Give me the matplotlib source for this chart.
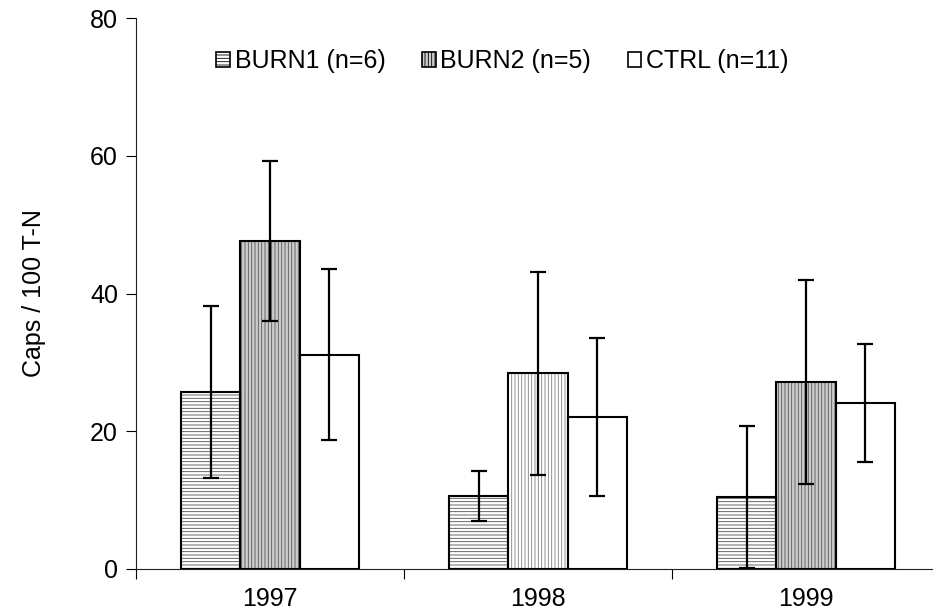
import matplotlib.pyplot as plt
import numpy as np
from matplotlib.patches import Patch

plt.rcParams['font.family'] = ['Liberation Sans', 'DejaVu Sans']
plt.rcParams['hatch.linewidth'] = 0.6

years = ['1997', '1998', '1999']
series = ['BURN1 (n=6)', 'BURN2 (n=5)', 'CTRL (n=11)']
burn1 = [25.7, 10.6, 10.4]
burn1_err = [12.5, 3.7, 10.3]
burn2 = [47.6, 28.4, 27.2]
burn2_err = [11.6, 14.7, 14.8]
ctrl = [31.1, 22.1, 24.1]
ctrl_err = [12.4, 11.5, 8.6]

fig = plt.figure(figsize=(9.33, 6.15), dpi=100)
ax = fig.add_axes([136 / 933, 1 - 569 / 615, 804 / 933, 551 / 615])

x = np.arange(len(years))
w = 0.222
lw = 1.5

# hatched fills first, then black outlines on top
ax.bar(x - w, burn1, w, color='white', edgecolor='#505050', hatch='-----', linewidth=0)
ax.bar(x, burn2, w, color=['#cccccc', 'white', '#cccccc'],
       edgecolor=['#555555', '#808080', '#555555'], hatch='|||||', linewidth=0)
ax.bar(x + w, ctrl, w, color='white', linewidth=0)
for off, vals in [(-w, burn1), (0, burn2), (w, ctrl)]:
    ax.bar(x + off, vals, w, fill=False, edgecolor='black', linewidth=lw)

err_kw = dict(fmt='none', ecolor='black', elinewidth=1.6, capsize=5.5, capthick=1.6)
ax.errorbar(x - w, burn1, yerr=burn1_err, **err_kw)
ax.errorbar(x, burn2, yerr=burn2_err, **err_kw)
ax.errorbar(x + w, ctrl, yerr=ctrl_err, **err_kw)

ax.set_xlim(-0.5, 2.5)
ax.set_ylim(0, 80)
ax.set_yticks([0, 20, 40, 60, 80])
ax.set_xticks([-0.5, 0.5, 1.5, 2.5])
ax.set_xticklabels([])
ax.set_xticks(x, minor=True)
ax.set_xticklabels(years, minor=True)
ax.tick_params(axis='x', which='minor', length=0, pad=13, labelsize=18)
ax.tick_params(axis='x', which='major', length=7, width=0.8, direction='out')
ax.tick_params(axis='y', length=7, width=0.8, direction='out', labelsize=18, pad=6)
for s in ['top', 'right']:
    ax.spines[s].set_visible(False)
for s in ['left', 'bottom']:
    ax.spines[s].set_linewidth(0.8)
    ax.spines[s].set_color('#202020')

ax.set_ylabel('Caps / 100 T-N', fontsize=18, labelpad=32)

handles = [
    Patch(facecolor='white', edgecolor='black', hatch='-----', linewidth=1.2),
    Patch(facecolor='#cccccc', edgecolor='black', hatch='|||||', linewidth=1.2),
    Patch(facecolor='white', edgecolor='black', linewidth=1.2),
]
fig.legend(handles, series, ncol=3, frameon=False, fontsize=18,
           loc='center left', bbox_to_anchor=(216 / 933, 1 - 61 / 615),
           handlelength=0.55, handleheight=0.55, handletextpad=0.2,
           columnspacing=1.45, borderpad=0, borderaxespad=0)

fig.savefig('out.png', dpi=100)
